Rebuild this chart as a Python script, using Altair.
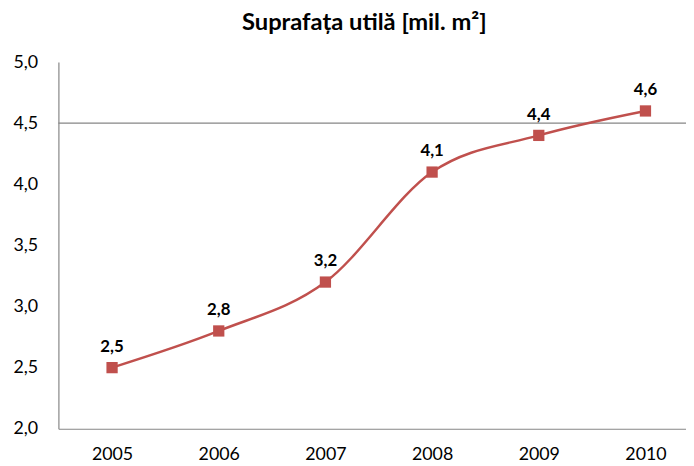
import altair as alt
import pandas as pd

years = [2005, 2006, 2007, 2008, 2009, 2010]
values = [2.5, 2.8, 3.2, 4.1, 4.4, 4.6]
labels = ["2,5", "2,8", "3,2", "4,1", "4,4", "4,6"]
y_ticks = [2.0, 2.5, 3.0, 3.5, 4.0, 4.5, 5.0]
grid_at = [4.5]

df = pd.DataFrame({"year": years, "value": values, "label": labels})
grid_df = pd.DataFrame({"g": grid_at})

FONT = "Lato"
RED = "#C0504D"

x = alt.X("year:Q", scale=alt.Scale(domain=[2004.497, 2010.38], nice=False, zero=False),
          axis=alt.Axis(values=years, format="d", title=None, grid=False, ticks=False,
                        domainColor="#868686", domainWidth=1.2, labelFont=FONT,
                        labelFontSize=18, labelColor="#000000", labelPadding=17))
y = alt.Y("value:Q", scale=alt.Scale(domain=[2.0, 5.0], nice=False, zero=False),
          axis=alt.Axis(values=y_ticks, title=None, grid=False, ticks=False,
                        domainColor="#868686", domainWidth=1.2, labelFont=FONT,
                        labelFontSize=18, labelColor="#000000", labelPadding=21,
                        labelExpr="replace(format(datum.value, '.1f'), '.', ',')"))

base = alt.Chart(df)

grid = alt.Chart(grid_df).mark_rule(color="#868686", strokeWidth=1.2).encode(
    y=alt.Y("g:Q", scale=alt.Scale(domain=[2.0, 5.0], nice=False, zero=False))
)

line = base.mark_line(color=RED, strokeWidth=2.5, interpolate="monotone").encode(x=x, y=y)
pts = base.mark_square(color=RED, size=130, opacity=1).encode(x=x, y=y)
txt = base.mark_text(font=FONT, fontSize=17, fontWeight="bold", color="#000000", dy=-21).encode(
    x=x, y=y, text="label:N")

chart = alt.layer(grid, line, pts, txt).properties(
    width=635, height=371,
    title=alt.TitleParams("Suprafața utilă [mil. m²]", font=FONT, fontSize=24,
                          fontWeight="bold", color="#000000", anchor="middle",
                          dx=-8, offset=18),
    padding={"left": 51, "top": 52, "right": 0, "bottom": 35},
    autosize=alt.AutoSizeParams(type="none"),
).configure_view(stroke=None)

chart.save("out.html", embed_options={"renderer": "svg", "actions": False})
